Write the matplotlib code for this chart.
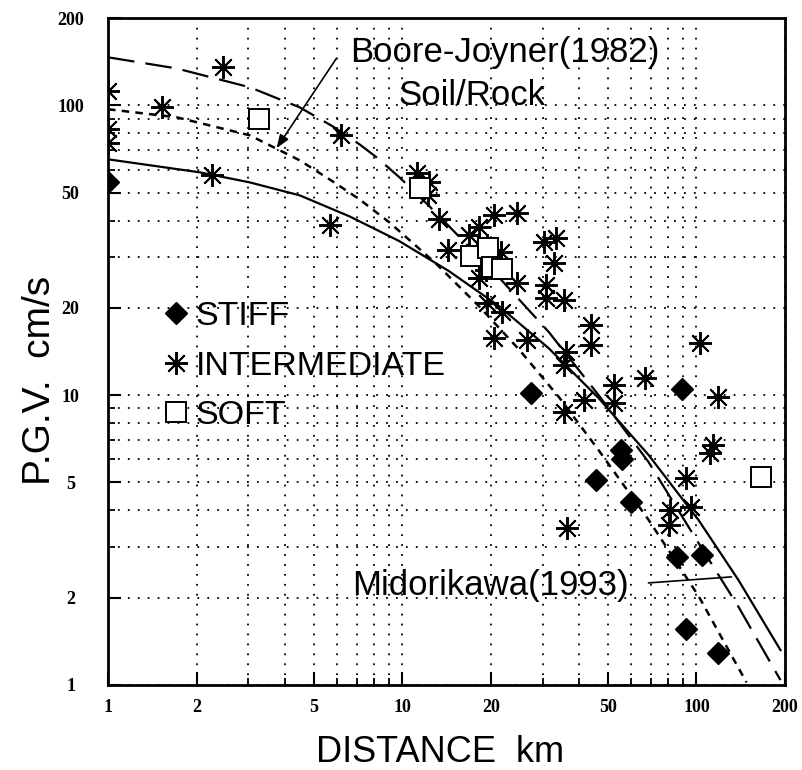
import matplotlib
matplotlib.use('Agg')
import matplotlib.pyplot as plt
from matplotlib.ticker import FixedLocator, NullFormatter

plt.rcParams['font.family'] = ['Liberation Sans', 'DejaVu Sans']

# attenuation curves (distance km, PGV cm/s)
mido_dist = [1.0, 2.05, 3.03, 4.48, 6.61, 9.77, 14.4, 21.3, 31.5, 46.5, 68.8, 101.6, 139, 193]
mido_pgv = [65.1, 58.7, 54.2, 48.9, 41.4, 34.0, 26.8, 20.3, 14.5, 9.77, 6.21, 3.71, 2.30, 1.32]

soil_dist = [1.0, 1.71, 3.03, 4.48, 5.79, 7.15, 8.17, 9.77, 12.35, 14.4, 21.3, 31.5, 46.5,
             68.8, 101.6, 139, 193]
soil_pgv = [146.4, 134, 115.4, 98.4, 84.7, 73.4, 66.2, 56.5, 44.9, 38.3, 25.5, 16.5, 10.0,
            5.87, 3.09, 1.86, 1.04]

rock_dist = [1.0, 1.71, 3.03, 4.48, 5.79, 7.15, 9.03, 13.0, 18.2, 24.9, 34.1, 46.5, 68.8,
             101.6, 148]
rock_pgv = [96.9, 90.9, 78.8, 64.6, 54.7, 47.4, 39.5, 28.5, 20.3, 14.4, 9.84, 6.46, 3.71,
            2.03, 1.02]

# observed records
stiff_dist = [1.0, 27.4, 89, 55.5, 56, 45.5, 59.7, 86.2, 104.8, 91.8, 118.8]
stiff_pgv = [54.2, 10.2, 10.5, 6.46, 6.0, 5.09, 4.28, 2.76, 2.81, 1.56, 1.29]

inter_dist = [1.0, 1.0, 1.0, 1.52, 2.45, 2.25, 6.21, 5.66,
              11.2, 12.35, 12.2, 13.3, 14.3, 20.5, 24.5,
              16.9, 18.2, 19.4, 21.7, 19.3, 20.8, 19.3, 18.2, 24.5,
              19.4, 21.8, 20.5, 26.5,
              30.3, 33.3, 32.7, 30.8, 30.8, 35.4,
              36.0, 35.4, 43.7, 43.7,
              67.1, 103, 52.3, 52.3, 41.4, 35.4,
              118.8, 114, 111, 91.8,
              36.3, 81.6, 80.9, 96.2]
inter_pgv = [112, 83, 74, 98.4, 135, 57.4, 78.8, 38.6,
             58.3, 54.3, 48.9, 40.4, 31.6, 41.8, 42.4,
             35.6, 38.0, 32.9, 31.1, 29.2, 27.4, 27.0, 25.3, 24.3,
             20.8, 19.3, 15.7, 15.5,
             33.7, 34.8, 28.5, 23.9, 21.6, 21.3,
             14.1, 12.7, 17.4, 14.9,
             11.5, 15.1, 10.8, 9.4, 9.6, 8.74,
             9.84, 6.72, 6.31, 5.17,
             3.48, 4.01, 3.56, 4.11]

soft_dist = [3.27, 11.5, 17.1, 19.6, 20.2, 21.8, 166]
soft_pgv = [89.5, 51.8, 30.2, 32.1, 27.6, 27.2, 5.21]

tick_vals = [1, 2, 5, 10, 20, 50, 100, 200]
tick_text = ['1', '2', '5', '10', '20', '50', '100', '200']
minor_vals = [3, 4, 6, 7, 8, 9, 30, 40, 60, 70, 80, 90]

fig = plt.figure(figsize=(8.02, 7.70), dpi=100)
ax = fig.add_axes([0.1347, 0.1104, 0.8441, 0.8662])
ax.set_xscale('log')
ax.set_yscale('log')
ax.set_xlim(1, 200)
ax.set_ylim(1, 200)

ax.plot(mido_dist, mido_pgv, color='black', lw=1.6)
ax.plot(soil_dist, soil_pgv, color='black', lw=1.6, linestyle=(0, (12, 5)))
ax.plot(rock_dist, rock_pgv, color='black', lw=1.8, linestyle=(0, (3, 2.5)))

ax.plot(stiff_dist, stiff_pgv, 'D', ms=11.5, color='black', linestyle='none', label='STIFF')
ax.plot(inter_dist, inter_pgv, marker=(8, 2, 0), ms=16.5, mew=1.4, color='black',
        linestyle='none', label='INTERMEDIATE')
ax.plot(soft_dist, soft_pgv, 's', ms=15, mfc='white', mec='black', mew=1.4,
        linestyle='none', label='SOFT')

# annotations
ax.annotate('', xy=(3.74, 71.1), xytext=(5.97, 145),
            arrowprops=dict(arrowstyle='-|>,head_length=0.4,head_width=0.15',
                            color='black', lw=1.2, shrinkA=0, shrinkB=0, mutation_scale=20))
ax.text(22.3, 140.7, 'Boore-Joyner(1982)', ha='center', va='baseline', fontsize=25)
ax.text(17.2, 100, 'Soil/Rock', ha='center', va='baseline', fontsize=25)
ax.text(19.95, 2.04, 'Midorikawa(1993)', ha='center', va='baseline', fontsize=25)
ax.annotate('', xy=(131.5, 2.36), xytext=(68.7, 2.25),
            arrowprops=dict(arrowstyle='-', color='black', lw=1.2, shrinkA=0, shrinkB=0))

leg = ax.legend(loc='center left', bbox_to_anchor=(0.08, 0.478), frameon=False,
                fontsize=24.5, handlelength=0.8, handletextpad=0.18, labelspacing=0.54,
                borderpad=0, borderaxespad=0)

# axes, ticks and dotted grid
for axis in (ax.xaxis, ax.yaxis):
    axis.set_major_locator(FixedLocator(tick_vals))
    axis.set_minor_locator(FixedLocator(minor_vals))
    axis.set_minor_formatter(NullFormatter())
ax.set_xticklabels(tick_text)
ax.set_yticklabels(tick_text)
ax.grid(True, which='both', color='black', linestyle=(0, (1, 4.5)), lw=1.3)
ax.set_axisbelow(True)
ax.tick_params(which='major', direction='in', length=9.5, width=1.5)
ax.tick_params(which='minor', direction='in', length=5, width=1.3)
ax.tick_params(axis='x', pad=10)
ax.tick_params(axis='y', pad=27)
for lbl in ax.get_xticklabels() + ax.get_yticklabels():
    lbl.set_fontfamily('Liberation Serif')
    lbl.set_fontweight('bold')
    lbl.set_fontsize(13)
for lbl in ax.get_yticklabels():
    lbl.set_ha('center')
for sp in ax.spines.values():
    sp.set_linewidth(2.0)

ax.set_xlabel('DISTANCE  km', fontsize=26)
ax.xaxis.set_label_coords(0.49, -0.075)
ax.set_ylabel('P.G.V.  cm/s', fontsize=28)
ax.yaxis.set_label_coords(-0.074, 0.456)

fig.savefig('out.png', dpi=100)
